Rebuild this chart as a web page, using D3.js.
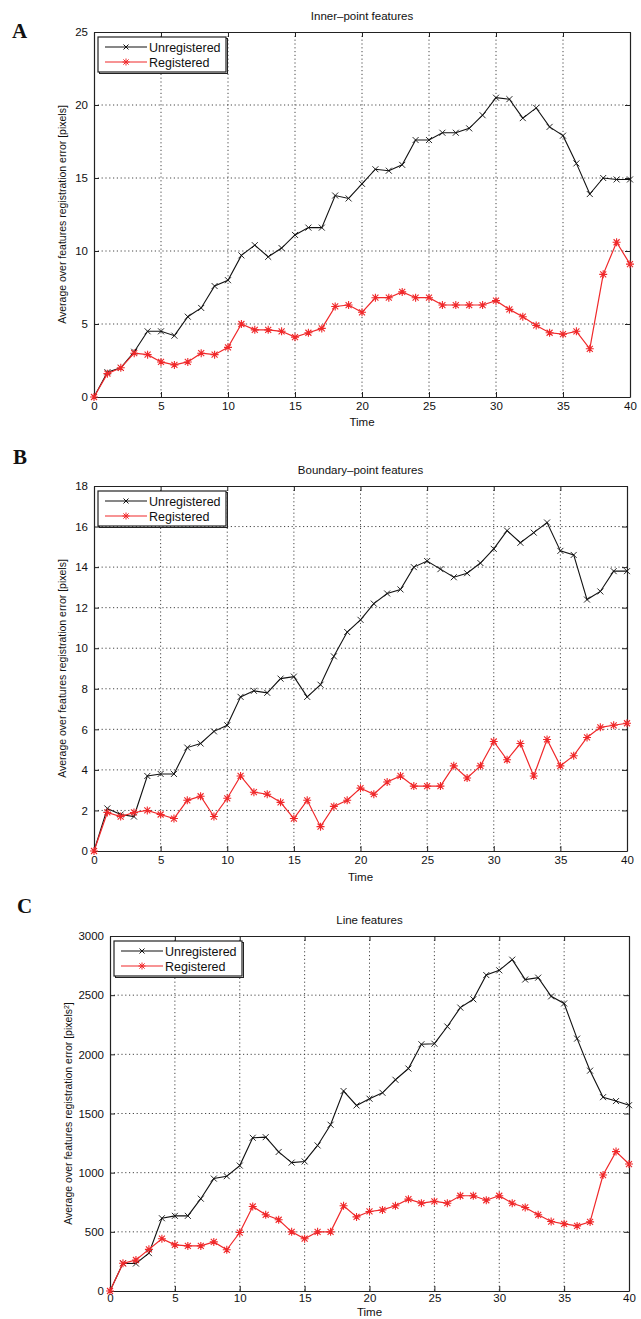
<!DOCTYPE html>
<html>
<head>
<meta charset="utf-8">
<title>Registration error over time</title>
<script src="https://d3js.org/d3.v7.min.js"></script>
<style>
body { margin: 0; background: #fff; }
svg { display: block; }
text { font-family: 'Liberation Sans', Arial, sans-serif; fill: #111; }
.tick text { font-size: 11.5px; }
.grid line { stroke: #333; stroke-dasharray: 1.2,2.6; stroke-width: 0.9; }
.panel-label { font-family: 'Liberation Serif', 'DejaVu Serif', serif; font-weight: bold; font-size: 21px; }
</style>
</head>
<body>
<div id="chart"></div>
<script>

var time = d3.range(0, 41);

// panel A: inner-point features
var innerUnreg = [0, 1.7, 2.0, 3.1, 4.5, 4.5, 4.2, 5.5, 6.1, 7.6, 8.0, 9.7, 10.4, 9.6, 10.2, 11.1, 11.6, 11.6, 13.8, 13.6,
  14.6, 15.6, 15.5, 15.9, 17.6, 17.6, 18.1, 18.1, 18.4, 19.3, 20.5, 20.4, 19.1, 19.8, 18.5, 17.9, 16.0, 13.9, 15.0, 14.9, 14.9];
var innerReg = [0, 1.6, 2.0, 3.0, 2.9, 2.4, 2.2, 2.4, 3.0, 2.9, 3.4, 5.0, 4.6, 4.6, 4.5, 4.1, 4.4, 4.7, 6.2, 6.3,
  5.8, 6.8, 6.8, 7.2, 6.8, 6.8, 6.3, 6.3, 6.3, 6.3, 6.6, 6.0, 5.5, 4.9, 4.4, 4.3, 4.5, 3.3, 8.4, 10.6, 9.1];

// panel B: boundary-point features
var boundUnreg = [0, 2.1, 1.8, 1.7, 3.7, 3.8, 3.8, 5.1, 5.3, 5.9, 6.2, 7.6, 7.9, 7.8, 8.5, 8.6, 7.6, 8.2, 9.6, 10.8,
  11.4, 12.2, 12.7, 12.9, 14.0, 14.3, 13.9, 13.5, 13.7, 14.2, 14.9, 15.8, 15.2, 15.7, 16.2, 14.8, 14.6, 12.4, 12.8, 13.8, 13.8];
var boundReg = [0, 1.9, 1.7, 1.9, 2.0, 1.8, 1.6, 2.5, 2.7, 1.7, 2.6, 3.7, 2.9, 2.8, 2.4, 1.6, 2.5, 1.2, 2.2, 2.5,
  3.1, 2.8, 3.4, 3.7, 3.2, 3.2, 3.2, 4.2, 3.6, 4.2, 5.4, 4.5, 5.3, 3.7, 5.5, 4.2, 4.7, 5.6, 6.1, 6.2, 6.3];

// panel C: line features
var lineUnreg = [0, 235, 232, 320, 615, 635, 635, 780, 950, 970, 1060, 1295, 1300, 1175, 1085, 1095, 1230, 1405, 1690, 1568,
  1625, 1675, 1785, 1880, 2085, 2090, 2235, 2395, 2465, 2670, 2710, 2800, 2632, 2648, 2490, 2430, 2133, 1862, 1638, 1605, 1570];
var lineReg = [0, 234, 262, 352, 442, 390, 381, 381, 415, 348, 494, 714, 644, 602, 500, 442, 500, 500, 720, 626,
  672, 685, 720, 776, 742, 757, 742, 805, 805, 767, 805, 742, 706, 644, 587, 568, 550, 584, 980, 1178, 1073];

var xTicks = [0, 5, 10, 15, 20, 25, 30, 35, 40];
var seriesNames = ["Unregistered", "Registered"];

var panels = [
  { label: "A", title: "Inner\u2013point features", unreg: innerUnreg, reg: innerReg,
    yMax: 25, yTicks: [0, 5, 10, 15, 20, 25], unit: "pixels",
    left: 94, right: 630, top: 32, bottom: 397, labelX: 12, labelY: 38, yLabelX: 62, xPad: 5, timeY: 426 },
  { label: "B", title: "Boundary\u2013point features", unreg: boundUnreg, reg: boundReg,
    yMax: 18, yTicks: [0, 2, 4, 6, 8, 10, 12, 14, 16, 18], unit: "pixels",
    left: 94, right: 627, top: 486, bottom: 851, labelX: 13, labelY: 464, yLabelX: 62, xPad: 5, timeY: 881 },
  { label: "C", title: "Line features", unreg: lineUnreg, reg: lineReg,
    yMax: 3000, yTicks: [0, 500, 1000, 1500, 2000, 2500, 3000], unit: "pixels2",
    left: 110, right: 629, top: 936, bottom: 1291, labelX: 17, labelY: 913, yLabelX: 68, xPad: 3, timeY: 1316 }
];

var width = 641, height = 1319;

var svg = d3.select("#chart").append("svg")
  .attr("width", width)
  .attr("height", height);

function crossPath(s) {
  return "M" + (-s) + "," + (-s) + "L" + s + "," + s + "M" + (-s) + "," + s + "L" + s + "," + (-s);
}
function starPath(s) {
  var d = 0.75 * s;
  return crossPath(d) + "M" + (-s) + ",0L" + s + ",0M0," + (-s) + "L0," + s;
}

panels.forEach(function(p) {
  var x = d3.scaleLinear().domain([0, 40]).range([p.left, p.right]);
  var y = d3.scaleLinear().domain([0, p.yMax]).range([p.bottom, p.top]);

  var g = svg.append("g");

  // grid
  var grid = g.append("g").attr("class", "grid");
  grid.selectAll(".gx").data(xTicks.slice(1, -1)).enter().append("line")
    .attr("x1", function(d) { return x(d); }).attr("x2", function(d) { return x(d); })
    .attr("y1", p.top).attr("y2", p.bottom);
  grid.selectAll(".gy").data(p.yTicks.slice(1, -1)).enter().append("line")
    .attr("y1", function(d) { return y(d); }).attr("y2", function(d) { return y(d); })
    .attr("x1", p.left).attr("x2", p.right);

  // axes, ticks inward like matlab
  g.append("g")
    .attr("transform", "translate(0," + p.bottom + ")")
    .call(d3.axisBottom(x).tickValues(xTicks).tickSize(-5).tickPadding(p.xPad).tickSizeOuter(0));
  g.append("g")
    .attr("transform", "translate(0," + p.top + ")")
    .call(d3.axisTop(x).tickValues(xTicks).tickSize(-5).tickFormat("").tickSizeOuter(0));
  g.append("g")
    .attr("transform", "translate(" + p.left + ",0)")
    .call(d3.axisLeft(y).tickValues(p.yTicks).tickFormat(d3.format("d")).tickSize(-5).tickPadding(6).tickSizeOuter(0));
  g.append("g")
    .attr("transform", "translate(" + p.right + ",0)")
    .call(d3.axisRight(y).tickValues(p.yTicks).tickSize(-5).tickFormat("").tickSizeOuter(0));
  g.selectAll(".domain").attr("stroke", "#222").attr("stroke-width", 1.2);
  g.selectAll(".tick line").attr("stroke", "#222");
  g.selectAll(".tick text").attr("fill", "#111");

  // lines
  var line = d3.line()
    .x(function(d, i) { return x(time[i]); })
    .y(function(d) { return y(d); });

  g.append("path").datum(p.unreg)
    .attr("d", line).attr("fill", "none").attr("stroke", "#111").attr("stroke-width", 1.1);
  g.selectAll(".mu").data(p.unreg).enter().append("path")
    .attr("transform", function(d, i) { return "translate(" + x(time[i]) + "," + y(d) + ")"; })
    .attr("d", crossPath(3)).attr("stroke", "#111").attr("stroke-width", 0.9);

  g.append("path").datum(p.reg)
    .attr("d", line).attr("fill", "none").attr("stroke", "#f0282a").attr("stroke-width", 1.2);
  g.selectAll(".mr").data(p.reg).enter().append("path")
    .attr("transform", function(d, i) { return "translate(" + x(time[i]) + "," + y(d) + ")"; })
    .attr("d", starPath(4)).attr("stroke", "#f0282a").attr("stroke-width", 1.1);

  // labels
  g.append("text")
    .attr("x", (p.left + p.right) / 2).attr("y", p.top - 12)
    .attr("text-anchor", "middle").style("font-size", "11.5px")
    .text(p.title);
  g.append("text")
    .attr("x", (p.left + p.right) / 2).attr("y", p.timeY)
    .attr("text-anchor", "middle").style("font-size", "11.5px")
    .text("Time");

  var yl = g.append("text")
    .attr("transform", "translate(" + p.yLabelX + "," + ((p.top + p.bottom) / 2) + ") rotate(-90)")
    .attr("text-anchor", "middle").attr("dy", "0.35em").style("font-size", "10.5px");
  if (p.unit === "pixels2") {
    yl.append("tspan").text("Average over features registration error [pixels");
    yl.append("tspan").attr("baseline-shift", "super").style("font-size", "7px").text("2");
    yl.append("tspan").text("]");
  } else {
    yl.text("Average over features registration error [pixels]");
  }

  g.append("text").attr("class", "panel-label")
    .attr("x", p.labelX).attr("y", p.labelY)
    .text(p.label);

  // legend
  var lx = p.left + 4, ly = p.top + 5, lw = 128, lh = 35;
  var leg = g.append("g").attr("transform", "translate(" + lx + "," + ly + ")");
  leg.append("rect").attr("x", 1.5).attr("y", 1.5).attr("width", lw).attr("height", lh)
    .attr("fill", "none").attr("stroke", "#222").attr("stroke-width", 1);
  leg.append("rect").attr("width", lw).attr("height", lh)
    .attr("fill", "#fff").attr("stroke", "#222").attr("stroke-width", 1.2);
  seriesNames.forEach(function(name, i) {
    var color = i === 0 ? "#111" : "#f0282a";
    var yy = 10 + i * 15;
    leg.append("line").attr("x1", 7).attr("x2", 49).attr("y1", yy).attr("y2", yy)
      .attr("stroke", color).attr("stroke-width", 1.1);
    leg.append("path").attr("transform", "translate(28," + yy + ")")
      .attr("d", i === 0 ? crossPath(2.5) : starPath(3.5)).attr("stroke", color).attr("stroke-width", 1);
    leg.append("text").attr("x", 51).attr("y", yy).attr("dy", "0.36em")
      .style("font-size", "12.5px").text(name);
  });
});

</script>
</body>
</html>
